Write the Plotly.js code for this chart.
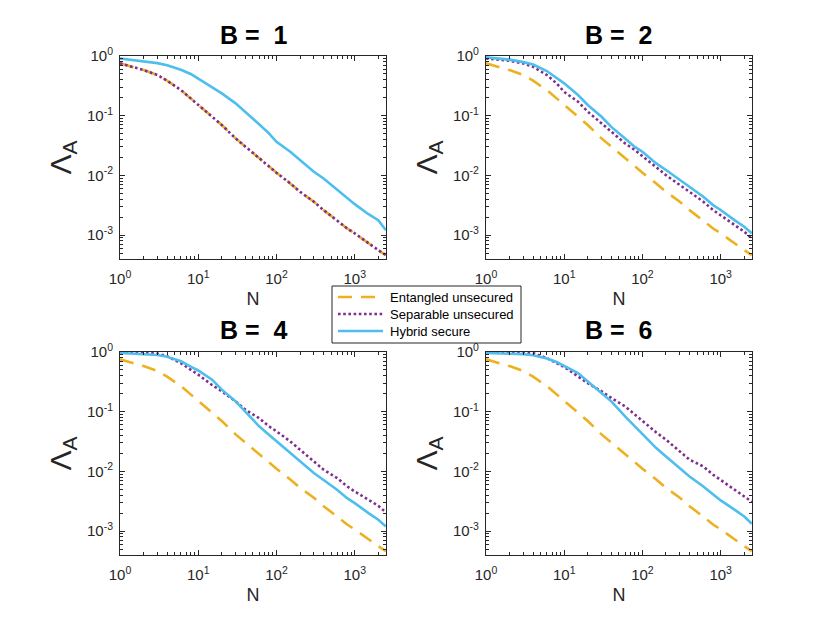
<!DOCTYPE html>
<html>
<head>
<meta charset="utf-8">
<script src="https://cdn.plot.ly/plotly-3.0.1.min.js"></script>
<style>
  html, body { margin: 0; padding: 0; background: #fff; }
  #chart { width: 830px; height: 623px; }
</style>
</head>
<body>
<div id="chart"></div>
<script>
// sample sizes N (shared by all panels)
var N = [1, 2, 3, 4, 6, 8, 10, 15, 20, 30, 40, 60, 80, 100, 150, 200, 300, 400, 600, 800, 1000, 1500, 2000, 2500];

// entangled unsecured (same in every panel)
var entangled = [0.754, 0.582, 0.481, 0.386, 0.269, 0.195, 0.151, 0.0962, 0.0698, 0.0417, 0.0302, 0.0193,
  0.0140, 0.0111, 0.00734, 0.00532, 0.00362, 0.00262, 0.00174, 0.00129, 0.00107, 0.00072, 0.00056, 0.00046];

// separable unsecured, per B
var sepB1 = [0.754, 0.582, 0.481, 0.386, 0.269, 0.195, 0.151, 0.0962, 0.0698, 0.0417, 0.0302, 0.0193,
  0.0140, 0.0111, 0.00734, 0.00532, 0.00362, 0.00262, 0.00174, 0.00129, 0.00107, 0.00072, 0.00056, 0.00046];
var sepB2 = [0.91, 0.835, 0.75, 0.66, 0.48, 0.348, 0.25, 0.172, 0.117, 0.0744, 0.054, 0.0344,
  0.0266, 0.0211, 0.014, 0.0101, 0.0069, 0.0053, 0.00363, 0.00263, 0.00216, 0.00147, 0.00114, 0.00088];
var sepB4 = [0.99, 0.99, 0.94, 0.85, 0.65, 0.51, 0.417, 0.28, 0.22, 0.149, 0.108, 0.078,
  0.057, 0.047, 0.0318, 0.0231, 0.0147, 0.0107, 0.0077, 0.0056, 0.00462, 0.00335, 0.00266, 0.00206];
var sepB6 = [0.995, 0.995, 0.99, 0.96, 0.79, 0.65, 0.56, 0.39, 0.30, 0.22, 0.17, 0.123,
  0.089, 0.0689, 0.045, 0.034, 0.0216, 0.0157, 0.0121, 0.0088, 0.0072, 0.0049, 0.0038, 0.0031];

// hybrid secure, per B
var hybB1 = [0.91, 0.82, 0.76, 0.70, 0.59, 0.50, 0.42, 0.306, 0.237, 0.161, 0.117, 0.072,
  0.0506, 0.0366, 0.0249, 0.0181, 0.0115, 0.0089, 0.00568, 0.0041, 0.0033, 0.00224, 0.00178, 0.00121];
var hybB2 = [0.95, 0.87, 0.79, 0.72, 0.56, 0.43, 0.348, 0.222, 0.151, 0.096, 0.065, 0.0417,
  0.030, 0.0249, 0.0159, 0.0123, 0.00836, 0.0063, 0.0044, 0.00318, 0.00263, 0.00178, 0.00138, 0.00107];
var hybB4 = [0.96, 0.93, 0.89, 0.83, 0.70, 0.57, 0.49, 0.344, 0.234, 0.149, 0.101, 0.057,
  0.041, 0.0318, 0.0203, 0.0147, 0.0094, 0.0072, 0.0049, 0.00357, 0.00295, 0.002, 0.00155, 0.0012];
var hybB6 = [0.96, 0.95, 0.92, 0.88, 0.78, 0.68, 0.59, 0.445, 0.32, 0.206, 0.149, 0.0835,
  0.057, 0.041, 0.0246, 0.0178, 0.0114, 0.0082, 0.0056, 0.0041, 0.00327, 0.00229, 0.00176, 0.00133];

var bValues = [1, 2, 4, 6];
var sepSets = [sepB1, sepB2, sepB4, sepB6];
var hybSets = [hybB1, hybB2, hybB4, hybB6];

var xTickVals = [1, 10, 100, 1000];
var xTickText = ['10<sup>0</sup>', '10<sup>1</sup>', '10<sup>2</sup>', '10<sup>3</sup>'];
var yTickVals = [1, 0.1, 0.01, 0.001];
var yTickText = ['10<sup>0</sup>', '10<sup>-1</sup>', '10<sup>-2</sup>', '10<sup>-3</sup>'];

var names = ['Entangled unsecured', 'Separable unsecured', 'Hybrid secure'];
var colors = ['#EDB120', '#7E2F8E', '#4DBEEE'];
var dashes = ['14px,9px', '2.6px,2.6px', 'solid'];

var ink = '#262626';
var fontFam = 'Liberation Sans, Arial, Helvetica, sans-serif';
var W = 830, H = 623;

// minor tick positions on the log axes
function minorTicks(lo, hi) {
  var out = [];
  for (var d = lo; d <= hi; d++) {
    for (var k = 2; k <= 9; k++) out.push(k * Math.pow(10, d));
  }
  return out;
}

var xDomains = [[0.1446, 0.4651], [0.5855, 0.9060], [0.1446, 0.4651], [0.5855, 0.9060]];
var yDomains = [[0.5843, 0.9101], [0.5843, 0.9101], [0.1091, 0.4350], [0.1091, 0.4350]];
var titleY = [0.9438, 0.9438, 0.4703, 0.4703];

var data = [];
var layout = {
  width: W,
  height: H,
  margin: { l: 0, r: 0, t: 0, b: 0 },
  paper_bgcolor: '#fff',
  plot_bgcolor: '#fff',
  font: { family: fontFam, color: ink, size: 13 },
  showlegend: false,
  annotations: [],
  shapes: []
};

for (var p = 0; p < 4; p++) {
  var ax = p === 0 ? '' : String(p + 1);
  var series = [entangled, sepSets[p], hybSets[p]];
  for (var s = 0; s < 3; s++) {
    data.push({
      x: N,
      y: series[s],
      xaxis: 'x' + ax,
      yaxis: 'y' + ax,
      mode: 'lines',
      name: names[s],
      line: { color: colors[s], width: 2.6, dash: dashes[s] }
    });
  }

  layout['xaxis' + ax] = {
    type: 'log',
    domain: xDomains[p],
    anchor: 'y' + ax,
    range: [0, 3.4],
    tickmode: 'array',
    tickvals: xTickVals,
    ticktext: xTickText,
    ticks: 'inside',
    ticklen: 5,
    tickcolor: ink,
    ticklabelstandoff: 6,
    showline: true,
    linecolor: ink,
    linewidth: 1,
    mirror: 'ticks',
    showgrid: false,
    zeroline: false,
    tickfont: { family: fontFam, size: 15, color: ink },
    minor: { tickmode: 'array', tickvals: minorTicks(0, 3), ticks: 'inside', ticklen: 3, tickcolor: ink, showgrid: false },
    title: { text: 'N', font: { family: fontFam, size: 18, color: ink }, standoff: 6 }
  };
  layout['yaxis' + ax] = {
    type: 'log',
    domain: yDomains[p],
    anchor: 'x' + ax,
    range: [-3.4, 0],
    tickmode: 'array',
    tickvals: yTickVals,
    ticktext: yTickText,
    ticks: 'inside',
    ticklen: 5,
    tickcolor: ink,
    ticklabelstandoff: 3,
    showline: true,
    linecolor: ink,
    linewidth: 1,
    mirror: 'ticks',
    showgrid: false,
    zeroline: false,
    tickfont: { family: fontFam, size: 15, color: ink },
    minor: { tickmode: 'array', tickvals: minorTicks(-4, -1), ticks: 'inside', ticklen: 3, tickcolor: ink, showgrid: false },
    title: { text: '\u039B<sub>A</sub>', font: { family: fontFam, size: 30, color: ink }, standoff: 6 }
  };

  layout.annotations.push({
    text: '<b>B = \u00a0' + bValues[p] + '</b>',
    xref: 'paper', yref: 'paper',
    x: (xDomains[p][0] + xDomains[p][1]) / 2,
    y: titleY[p],
    xanchor: 'center', yanchor: 'middle',
    showarrow: false,
    font: { family: fontFam, size: 25, color: '#000' }
  });
}

// shared legend box between the two rows (compact, like the original)
var legBox = { x0: 332, x1: 521, y0: 286, y1: 343 };
var legRowY = [297, 314, 331];
layout.shapes.push({
  type: 'rect', xref: 'paper', yref: 'paper', layer: 'above',
  x0: legBox.x0 / W, x1: legBox.x1 / W,
  y0: 1 - legBox.y1 / H, y1: 1 - legBox.y0 / H,
  fillcolor: '#fff', line: { color: ink, width: 1 }
});
for (var i = 0; i < names.length; i++) {
  layout.shapes.push({
    type: 'line', xref: 'paper', yref: 'paper', layer: 'above',
    x0: 338 / W, x1: 383 / W,
    y0: 1 - legRowY[i] / H, y1: 1 - legRowY[i] / H,
    line: { color: colors[i], width: 2.6, dash: dashes[i] }
  });
  layout.annotations.push({
    text: names[i],
    xref: 'paper', yref: 'paper',
    x: 388 / W, y: 1 - legRowY[i] / H,
    xanchor: 'left', yanchor: 'middle',
    showarrow: false,
    font: { family: fontFam, size: 13, color: '#000' }
  });
}

Plotly.newPlot('chart', data, layout, { staticPlot: true });
</script>
</body>
</html>
